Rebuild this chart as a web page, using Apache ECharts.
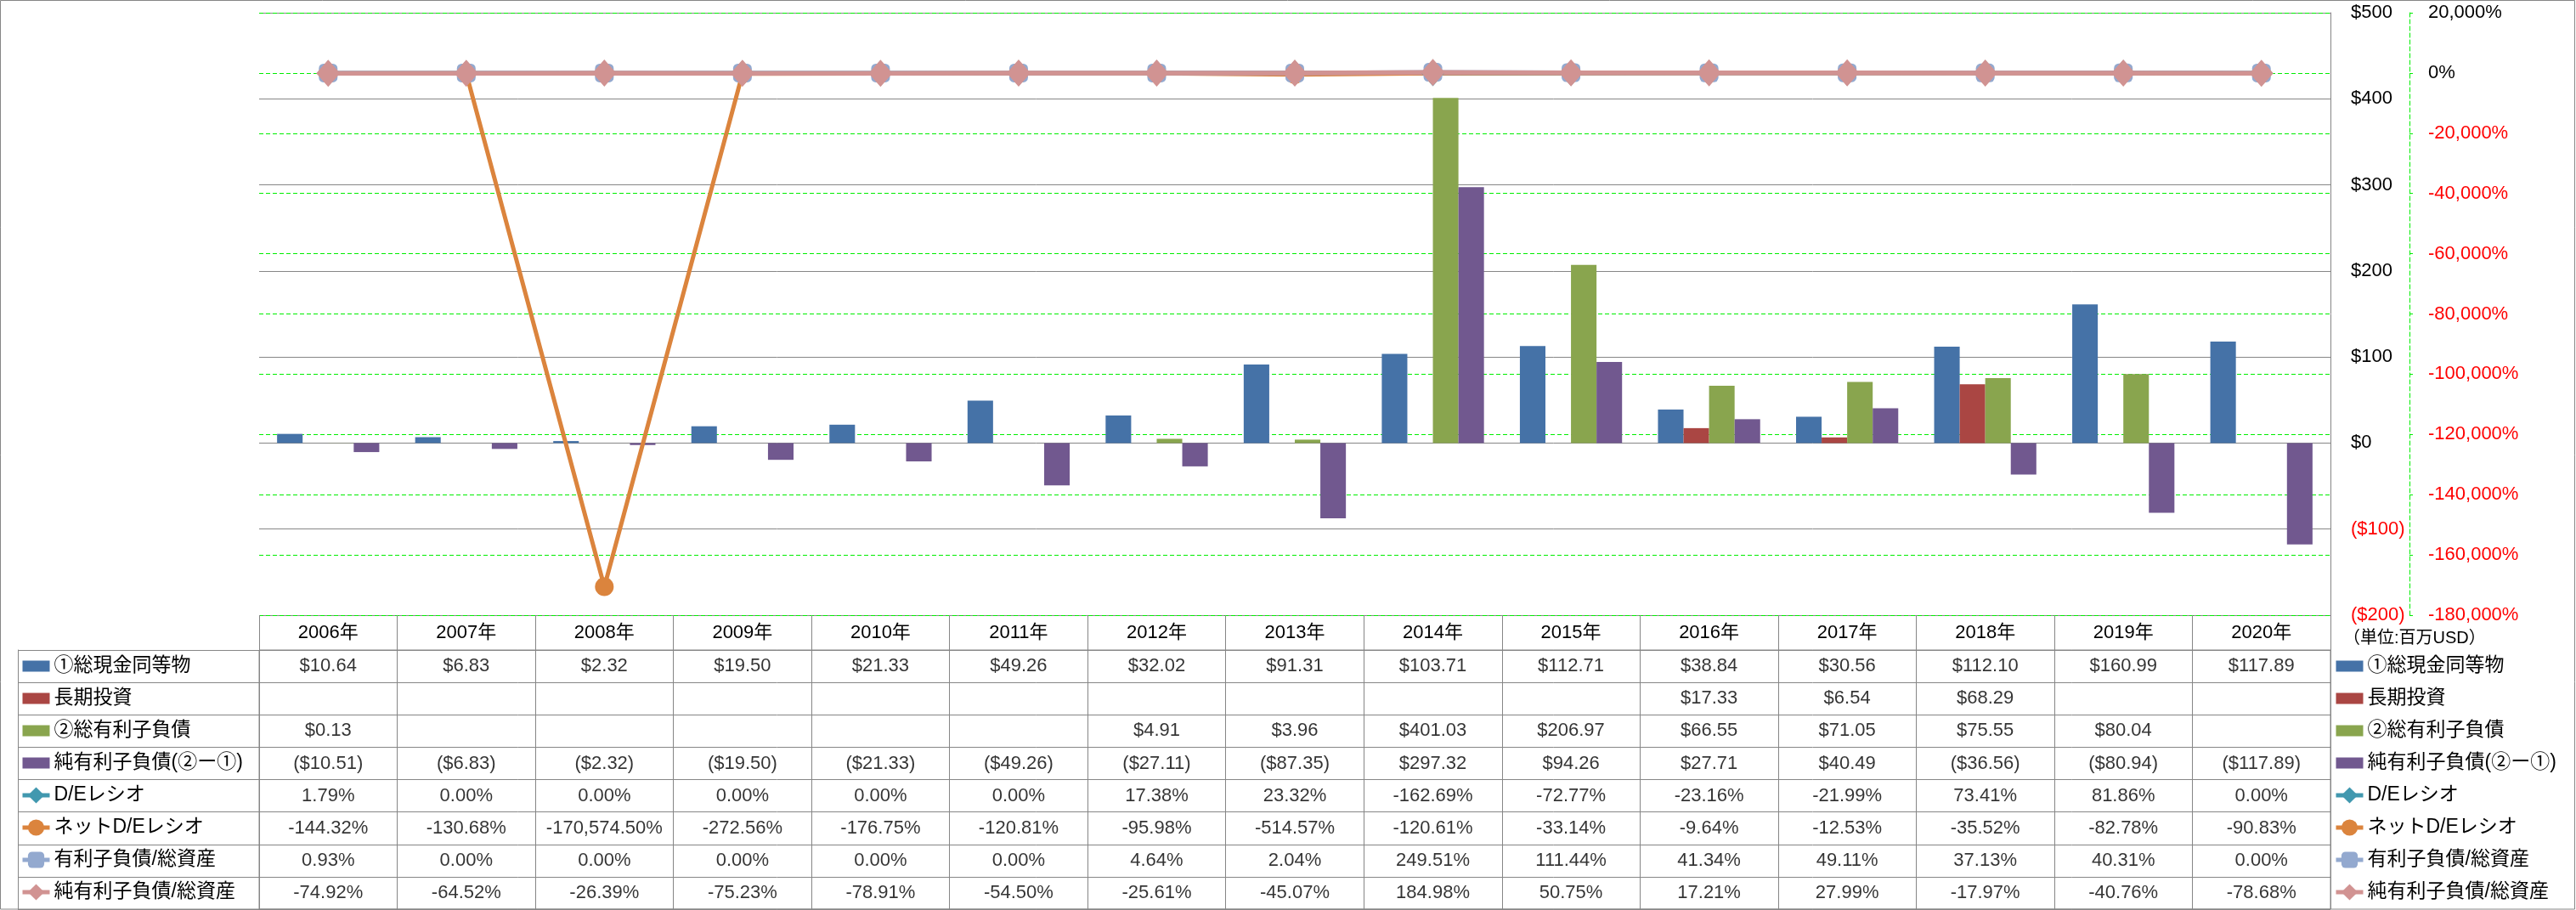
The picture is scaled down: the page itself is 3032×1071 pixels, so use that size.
<!DOCTYPE html>
<html><head><meta charset="utf-8">
<script src="https://cdn.jsdelivr.net/npm/echarts@6/dist/echarts.min.js"></script>
<style>html,body{margin:0;padding:0;background:#fff}#c{width:3032px;height:1071px}</style>
</head><body><div id="c"></div>
<script>
// ---- data ----
const years = ['2006年','2007年','2008年','2009年','2010年','2011年','2012年','2013年','2014年','2015年','2016年','2017年','2018年','2019年','2020年'];
const cash = [10.64, 6.83, 2.32, 19.50, 21.33, 49.26, 32.02, 91.31, 103.71, 112.71, 38.84, 30.56, 112.10, 160.99, 117.89];
const longInv = [null, null, null, null, null, null, null, null, null, null, 17.33, 6.54, 68.29, null, null];
const debt = [0.13, null, null, null, null, null, 4.91, 3.96, 401.03, 206.97, 66.55, 71.05, 75.55, 80.04, null];
const netDebt = [-10.51, -6.83, -2.32, -19.50, -21.33, -49.26, -27.11, -87.35, 297.32, 94.26, 27.71, 40.49, -36.56, -80.94, -117.89];
const deRatio = [1.79, 0, 0, 0, 0, 0, 17.38, 23.32, -162.69, -72.77, -23.16, -21.99, 73.41, 81.86, 0];
const netDeRatio = [-144.32, -130.68, -170574.50, -272.56, -176.75, -120.81, -95.98, -514.57, -120.61, -33.14, -9.64, -12.53, -35.52, -82.78, -90.83];
const debtToAssets = [0.93, 0, 0, 0, 0, 0, 4.64, 2.04, 249.51, 111.44, 41.34, 49.11, 37.13, 40.31, 0];
const netDebtToAssets = [-74.92, -64.52, -26.39, -75.23, -78.91, -54.50, -25.61, -45.07, 184.98, 50.75, 17.21, 27.99, -17.97, -40.76, -78.68];
const seriesNames = ['①総現金同等物','長期投資','②総有利子負債','純有利子負債(②ー①)','D/Eレシオ','ネットD/Eレシオ','有利子負債/総資産','純有利子負債/総資産'];
const usdAxis = {min: -200, max: 500, step: 100};
const pctAxis = {min: -180000, max: 20000, step: 20000};
const unitLabel = '（単位:百万USD）';

// ---- helpers ----
const FONT = "'Liberation Sans', 'Noto Sans CJK JP', sans-serif";
const GRAY = '#868686';
function fix(v){ return v.toLocaleString('en-US',{minimumFractionDigits:2, maximumFractionDigits:2}); }
function fmtUsd(v){ if(v==null) return ''; return v<0 ? '($'+fix(-v)+')' : '$'+fix(v); }
function fmtPct(v){ if(v==null) return ''; return fix(v)+'%'; }
const tableRows = [cash, longInv, debt, netDebt, deRatio, netDeRatio, debtToAssets, netDebtToAssets];
const tableFmt = [fmtUsd, fmtUsd, fmtUsd, fmtUsd, fmtPct, fmtPct, fmtPct, fmtPct];
const cellData = [];
tableRows.forEach((row, r) => row.forEach((v, c) => {
  const t = tableFmt[r](v);
  if (t !== '') cellData.push([c, r, t]);
}));

const colors = {cash:'#4572A7', inv:'#AA4643', debt:'#89A54E', net:'#71588F', de:'#4198AF', netDe:'#DB843D', dta:'#93A9CF', ndta:'#D19392'};

const chart = echarts.init(document.getElementById('c'), null, {renderer:'canvas'});
const BAR_ICON = 'path://M0,0L32,0L32,13L0,13Z';
const legendData = seriesNames.map((n, i) => i < 4
  ? {name: n, icon: BAR_ICON}
  : {name: n, lineStyle: {width: 5}});
const legendCommon = {
  orient:'vertical', top: 765, itemWidth: 32, itemHeight: 24, itemGap: 0, padding: 0,
  selectedMode: false, data: legendData, symbolKeepAspect: true,
  textStyle: {fontSize: 23, lineHeight: 38, color: '#000', fontFamily: FONT}
};
function barSeries(name, data, color){
  return {name, type:'bar', data, xAxisIndex:0, yAxisIndex:0, barGap:'0%', barCategoryGap:'26%',
    itemStyle:{color}, emphasis:{disabled:true}, silent:true};
}
function lineSeries(name, data, color, symbol, size, width){
  return {name, type:'line', data, xAxisIndex:0, yAxisIndex:1, symbol, symbolSize:size, showAllSymbol:true,
    lineStyle:{color, width}, itemStyle:{color}, emphasis:{disabled:true}, silent:true};
}

const option = {
  animation: false,
  backgroundColor: '#fff',
  textStyle: {fontFamily: FONT},
  title: {text: unitLabel, left: 2758, top: 741, padding: 0,
    textStyle: {fontSize: 20, fontWeight: 'normal', color: '#000', fontFamily: FONT}},
  legend: [Object.assign({left: 24}, legendCommon), Object.assign({left: 2747}, legendCommon)],
  grid: [
    {left: 305, right: 289, top: 15, bottom: 347, outerBoundsMode: 'none', containLabel: false},
    {left: 305, right: 289, top: 765, bottom: 1, outerBoundsMode: 'none', containLabel: false,
      show: true, borderColor: GRAY, borderWidth: 1}
  ],
  xAxis: [
    {type:'category', gridIndex:0, data: years, boundaryGap: true,
      axisLine:{show:false}, axisTick:{show:false}, axisLabel:{show:false}, splitLine:{show:false}},
    {type:'category', gridIndex:1, data: years, position:'top', boundaryGap: true,
      axisLine:{show:true, lineStyle:{color:GRAY, width:1}},
      axisTick:{show:true, interval:0, length:41, lineStyle:{color:GRAY, width:1}},
      axisLabel:{show:true, interval:0, margin:20, verticalAlign:'middle', fontSize:22, color:'#000', fontFamily:FONT},
      splitLine:{show:true, interval:0, lineStyle:{color:GRAY, width:1}}}
  ],
  yAxis: [
    {type:'value', gridIndex:0, position:'right', min: usdAxis.min, max: usdAxis.max, interval: usdAxis.step,
      axisLine:{show:true, lineStyle:{color:GRAY, width:1}}, axisTick:{show:false},
      axisLabel:{margin:24, fontSize:22, fontFamily:FONT,
        formatter: v => v<0 ? '($'+(-v)+')' : '$'+v,
        color: v => (Number(v) < 0 ? '#FF0000' : '#000000')},
      splitLine:{show:true, lineStyle:{color:GRAY, width:1}}},
    {type:'value', gridIndex:0, position:'right', offset: 93, min: pctAxis.min, max: pctAxis.max, interval: pctAxis.step,
      axisLine:{show:true, lineStyle:{color:'#00EE00', width:1, type:[5,3]}},
      axisTick:{show:true, length:4, lineStyle:{color:'#00EE00'}},
      axisLabel:{margin:22, fontSize:22, fontFamily:FONT,
        formatter: v => v.toLocaleString('en-US') + '%',
        color: v => (Number(v) < 0 ? '#FF0000' : '#000000')},
      splitLine:{show:true, lineStyle:{color:'#00EE00', width:1, type:[5,3]}}},
    {type:'category', gridIndex:1, data: seriesNames, inverse:true, position:'left', boundaryGap:true,
      axisLine:{show:true, lineStyle:{color:GRAY, width:1}},
      axisTick:{show:true, interval:0, length:284, lineStyle:{color:GRAY, width:1}},
      axisLabel:{show:false},
      splitLine:{show:true, interval:0, lineStyle:{color:GRAY, width:1}}},
    {type:'category', gridIndex:1, data: seriesNames, inverse:true, position:'left', offset:284,
      axisLine:{show:true, lineStyle:{color:GRAY, width:1}},
      axisTick:{show:false}, axisLabel:{show:false}, splitLine:{show:false}}
  ],
  series: [
    barSeries(seriesNames[0], cash, colors.cash),
    barSeries(seriesNames[1], longInv, colors.inv),
    barSeries(seriesNames[2], debt, colors.debt),
    barSeries(seriesNames[3], netDebt, colors.net),
    lineSeries(seriesNames[4], deRatio, colors.de, 'diamond', [26,30], 5),
    lineSeries(seriesNames[5], netDeRatio, colors.netDe, 'circle', 22, 5),
    lineSeries(seriesNames[6], debtToAssets, colors.dta, 'roundRect', 22, 5),
    lineSeries(seriesNames[7], netDebtToAssets, colors.ndta, 'diamond', [28,32], 5.5),
    {type:'scatter', xAxisIndex:1, yAxisIndex:2, data: cellData, symbolSize:1,
      itemStyle:{color:'rgba(0,0,0,0)'}, silent:true, emphasis:{disabled:true},
      label:{show:true, position:'inside', formatter: p => p.data[2], fontSize:22, color:'#000', fontFamily:FONT}}
  ],
  graphic: [
    {type:'rect', shape:{x:0.5, y:0.5, width:3030, height:1069.5}, style:{fill:'none', stroke:GRAY, lineWidth:1}, silent:true, z:100}
  ]
};
chart.setOption(option);
</script></body></html>
